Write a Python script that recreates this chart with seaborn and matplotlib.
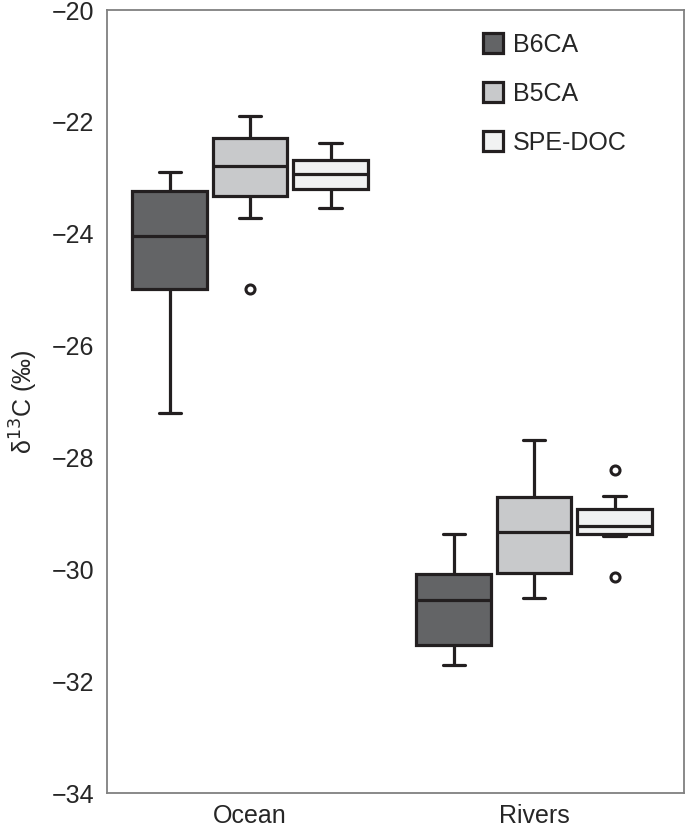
import matplotlib
matplotlib.use("Agg")
import matplotlib.pyplot as plt
import pandas as pd
import seaborn as sns

# d13C samples per site / compound group (chosen to reproduce the box statistics)
ocean_b6ca = [-27.21, -25.60, -24.98, -24.50, -24.04, -23.60, -23.23, -23.05, -22.89]
ocean_b5ca = [-24.99, -23.71, -23.33, -23.05, -22.78, -22.50, -22.29, -22.10, -21.90]
ocean_spe = [-23.53, -23.35, -23.20, -23.05, -22.93, -22.80, -22.68, -22.50, -22.37]
rivers_b6ca = [-31.71, -31.50, -31.35, -30.90, -30.55, -30.30, -30.08, -29.70, -29.37]
rivers_b5ca = [-30.51, -30.30, -30.06, -29.70, -29.33, -29.00, -28.70, -28.20, -27.69]
rivers_spe = [-30.13, -29.40, -29.36, -29.30, -29.22, -29.10, -28.92, -28.69, -28.22]

sites = ["Ocean", "Rivers"]
groups = ["B6CA", "B5CA", "SPE-DOC"]
colors = ["#636466", "#c8c9cb", "#f1f2f2"]
yticks = [-34, -32, -30, -28, -26, -24, -22, -20]

series = {
    ("Ocean", "B6CA"): ocean_b6ca,
    ("Ocean", "B5CA"): ocean_b5ca,
    ("Ocean", "SPE-DOC"): ocean_spe,
    ("Rivers", "B6CA"): rivers_b6ca,
    ("Rivers", "B5CA"): rivers_b5ca,
    ("Rivers", "SPE-DOC"): rivers_spe,
}
rows = [(s, g, v) for (s, g), vals in series.items() for v in vals]
df = pd.DataFrame(rows, columns=["site", "group", "d13C"])

sns.set_style("white")
plt.rcParams["font.family"] = ["Liberation Sans", "DejaVu Sans"]

edge = "#231f20"
fs = 18
fig, ax = plt.subplots(figsize=(6.85, 8.27), dpi=100)
fig.subplots_adjust(left=0.1558, right=0.9985, top=0.9879, bottom=0.0407)

sns.boxplot(
    data=df, x="site", y="d13C", hue="group", order=sites, hue_order=groups,
    palette=colors, width=0.85, gap=0.075, linewidth=2.3, linecolor=edge,
    whis=1.5, saturation=1, ax=ax, capwidths=0.078,
    flierprops=dict(marker="o", markerfacecolor="white", markeredgecolor=edge,
                    markeredgewidth=2.2, markersize=6.5),
)

ax.set_xlim(-0.505, 1.528)
ax.set_ylim(-34, -20)
ax.set_yticks(yticks)
ax.set_xlabel("")
ax.set_ylabel("δ$^{13}$C (‰)", fontsize=fs, labelpad=8)
ax.tick_params(axis="both", length=0, labelsize=fs)
ax.tick_params(axis="y", pad=9)
ax.tick_params(axis="x", pad=8)
for sp in ax.spines.values():
    sp.set_visible(True)
    sp.set_color("#808080")
    sp.set_linewidth(1.3)

handles, labels = ax.get_legend_handles_labels()
for h in handles:
    h.set_linewidth(2.3)
    h.set_edgecolor(edge)
ax.legend(
    handles, labels, loc="upper left", bbox_to_anchor=(0.652, 0.971),
    frameon=False, fontsize=fs, handlelength=0.8, handleheight=0.8,
    handletextpad=0.4, labelspacing=1.0, borderpad=0, borderaxespad=0,
)

plt.savefig("out.png", dpi=100)
plt.close(fig)
